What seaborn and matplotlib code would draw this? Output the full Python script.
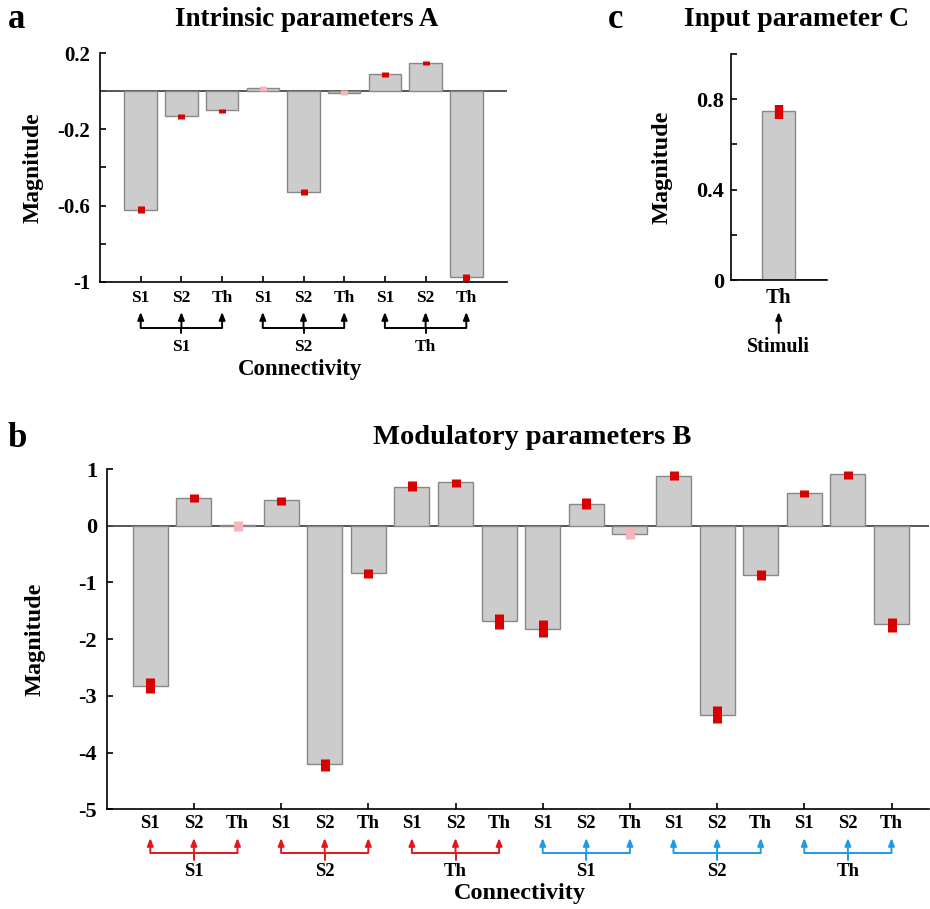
import numpy as np
import pandas as pd
import matplotlib
matplotlib.use('Agg')
import matplotlib.pyplot as plt
import matplotlib.transforms as mtransforms
import seaborn as sns

# connection source region under each bar, and target region of each group
sources = ['S1', 'S2', 'Th']
targets = ['S1', 'S2', 'Th']

# a: intrinsic parameters A (bar height, and low/high end of the red marker)
a_vals = [-0.622, -0.128, -0.100, 0.016, -0.529, -0.009, 0.093, 0.151, -0.977]
a_lo = [-0.639, -0.144, -0.114, 0.002, -0.546, -0.019, 0.077, 0.137, -0.997]
a_hi = [-0.604, -0.117, -0.091, 0.028, -0.513, 0.005, 0.100, 0.161, -0.961]
a_weak = [False, False, False, True, False, True, False, False, False]

# b: modulatory parameters B (first 9 = red input, last 9 = blue input)
b_vals = [-2.82, 0.49, 0.005, 0.447, -4.21, -0.84, 0.68, 0.77, -1.68,
          -1.82, 0.39, -0.14, 0.87, -3.34, -0.87, 0.576, 0.905, -1.73]
b_lo = [-2.95, 0.41, -0.09, 0.37, -4.33, -0.93, 0.62, 0.68, -1.82,
        -1.96, 0.30, -0.235, 0.80, -3.47, -0.96, 0.51, 0.82, -1.88]
b_hi = [-2.68, 0.56, 0.08, 0.505, -4.11, -0.76, 0.78, 0.82, -1.56,
        -1.66, 0.49, -0.02, 0.97, -3.18, -0.78, 0.635, 0.96, -1.62]
b_weak = [False, False, True, False, False, False, False, False, False,
          False, False, True, False, False, False, False, False, False]

# c: input parameter C
c_labels = ['Th']
c_vals = [0.747]
c_lo = [0.711]
c_hi = [0.776]
c_input = 'Stimuli'

sns.set_style('ticks')
plt.rcParams['font.family'] = ['Liberation Serif', 'DejaVu Serif']
plt.rcParams['font.weight'] = 'bold'
plt.rcParams['axes.labelweight'] = 'bold'
plt.rcParams['text.color'] = 'black'
plt.rcParams['axes.labelcolor'] = 'black'
plt.rcParams['xtick.color'] = 'black'
plt.rcParams['ytick.color'] = 'black'

W, H = 930, 909
fig = plt.figure(figsize=(W / 100, H / 100), dpi=100)

RED = '#d90000'
PINK = '#f3b7bb'
BR_RED = '#e3161c'
BR_BLUE = '#1f9be6'


def box(left, top, right, bottom):
    return [left / W, 1 - bottom / H, (right - left) / W, (bottom - top) / H]


def fy(py):
    return 1 - py / H


def draw_bars(ax, vals, lo, hi, weak, width, mlw):
    pos = np.arange(1, len(vals) + 1)
    df = pd.DataFrame({'pos': pos, 'val': vals})
    ax.axhline(0, color='#4a4a4a', lw=1.3, zorder=1)
    sns.barplot(data=df, x='pos', y='val', native_scale=True, width=width,
                color='#cccccc', saturation=1, edgecolor='#888888',
                linewidth=1.0, errorbar=None, ax=ax, zorder=2)
    cols = [PINK if w else RED for w in weak]
    ax.vlines(pos, lo, hi, colors=cols, lw=mlw, zorder=3, capstyle='butt')
    ax.set_xlabel('')
    ax.set_ylabel('')
    sns.despine(ax=ax)
    for s in ['left', 'bottom']:
        ax.spines[s].set_linewidth(1.2)
        ax.spines[s].set_color('black')
    ax.tick_params(direction='in', length=4, width=1.2, color='black')
    return pos


def set_ylabel(ax, x, fs):
    ax.set_ylabel('Magnitude', fontsize=fs)
    ax.yaxis.set_label_coords(x, 0.5)
    ax.yaxis.label.set_va('center')


def draw_brackets(ax, n_groups, colors, y_lab, y_tip, y_bar, y_stem, y_grp, fs):
    trans = mtransforms.blended_transform_factory(ax.transData, fig.transFigure)
    for g in range(n_groups):
        xs = [3 * g + 1, 3 * g + 2, 3 * g + 3]
        col = colors[g]
        for i, x in enumerate(xs):
            ax.text(x, fy(y_lab), sources[i], transform=trans, ha='center',
                    va='center', fontsize=fs)
            ax.annotate('', xy=(x, fy(y_tip)), xytext=(x, fy(y_bar)),
                        xycoords=trans, textcoords=trans, annotation_clip=False,
                        arrowprops=dict(arrowstyle='-|>,head_length=0.45,head_width=0.18',
                                        color=col, lw=1.4, shrinkA=0, shrinkB=0,
                                        mutation_scale=10))
        ax.plot([xs[0], xs[2]], [fy(y_bar)] * 2, color=col, lw=1.4,
                transform=trans, clip_on=False, solid_capstyle='butt')
        ax.plot([xs[1], xs[1]], [fy(y_bar), fy(y_stem)], color=col, lw=1.4,
                transform=trans, clip_on=False)
        ax.text(xs[1], fy(y_grp), targets[g % 3], transform=trans, ha='center',
                va='center', fontsize=fs)


# ---- panel a
ax_a = fig.add_axes(box(100, 53.3, 507, 281.7))
pos_a = draw_bars(ax_a, a_vals, a_lo, a_hi, a_weak, 0.8, 5.0)
ax_a.set_xlim(0, 10)
ax_a.set_ylim(-1, 0.2)
ax_a.set_xticks(pos_a)
ax_a.set_xticklabels([])
ax_a.set_yticks(np.arange(-1, 0.21, 0.2))
ax_a.set_yticklabels(['-1', '', '-0.6', '', '-0.2', '', '0.2'])
ax_a.tick_params(axis='y', labelsize=15, pad=7)
set_ylabel(ax_a, -0.165, 17)
draw_brackets(ax_a, 3, ['black'] * 3, 298, 312, 328, 333, 347, 12.5)
fig.text(300 / W, fy(370), 'Connectivity', ha='center', va='center', fontsize=16.5)
fig.text(307 / W, fy(20), 'Intrinsic parameters A', ha='center', va='center', fontsize=19.5)
fig.text(17 / W, fy(20), 'a', ha='center', va='center', fontsize=25)

# ---- panel c
ax_c = fig.add_axes(box(730.7, 54, 826.7, 280))
pos_c = draw_bars(ax_c, c_vals, c_lo, c_hi, [False], 0.68, 6.0)
ax_c.set_xlim(0, 2)
ax_c.set_ylim(0, 1.0)
ax_c.set_xticks(pos_c)
ax_c.set_xticklabels([])
ax_c.set_yticks(np.arange(0, 1.01, 0.2))
ax_c.set_yticklabels(['0', '', '0.4', '', '0.8', ''])
ax_c.tick_params(axis='y', labelsize=16, pad=5)
set_ylabel(ax_c, -0.72, 17.5)
trans_c = mtransforms.blended_transform_factory(ax_c.transData, fig.transFigure)
ax_c.text(pos_c[0], fy(298), c_labels[0], transform=trans_c, ha='center', va='center', fontsize=15)
ax_c.annotate('', xy=(pos_c[0], fy(312)), xytext=(pos_c[0], fy(333)),
              xycoords=trans_c, textcoords=trans_c, annotation_clip=False,
              arrowprops=dict(arrowstyle='-|>,head_length=0.45,head_width=0.18',
                              color='black', lw=1.4, shrinkA=0, shrinkB=0,
                              mutation_scale=10))
ax_c.text(pos_c[0], fy(347), c_input, transform=trans_c, ha='center', va='center', fontsize=14.5)
fig.text(797 / W, fy(19), 'Input parameter C', ha='center', va='center', fontsize=20)
fig.text(616 / W, fy(19), 'c', ha='center', va='center', fontsize=25)

# ---- panel b
ax_b = fig.add_axes(box(106.7, 469, 929, 809.3))
pos_b = draw_bars(ax_b, b_vals, b_lo, b_hi, b_weak, 0.8, 6.5)
ax_b.set_xlim(0, 18.86)
ax_b.set_ylim(-5, 1)
ax_b.set_xticks(pos_b[1::2])
ax_b.set_xticklabels([])
ax_b.set_yticks(range(-5, 2))
ax_b.set_yticklabels([str(v) for v in range(-5, 2)])
ax_b.tick_params(axis='y', labelsize=16, pad=7)
set_ylabel(ax_b, -0.087, 17.5)
draw_brackets(ax_b, 6, [BR_RED] * 3 + [BR_BLUE] * 3, 823, 838, 853, 860, 872, 13.5)
fig.text(520 / W, fy(893), 'Connectivity', ha='center', va='center', fontsize=17.5)
fig.text(532 / W, fy(437), 'Modulatory parameters B', ha='center', va='center', fontsize=20.5)
fig.text(17 / W, fy(438), 'b', ha='center', va='center', fontsize=25)

fig.savefig('out.png', dpi=100)
